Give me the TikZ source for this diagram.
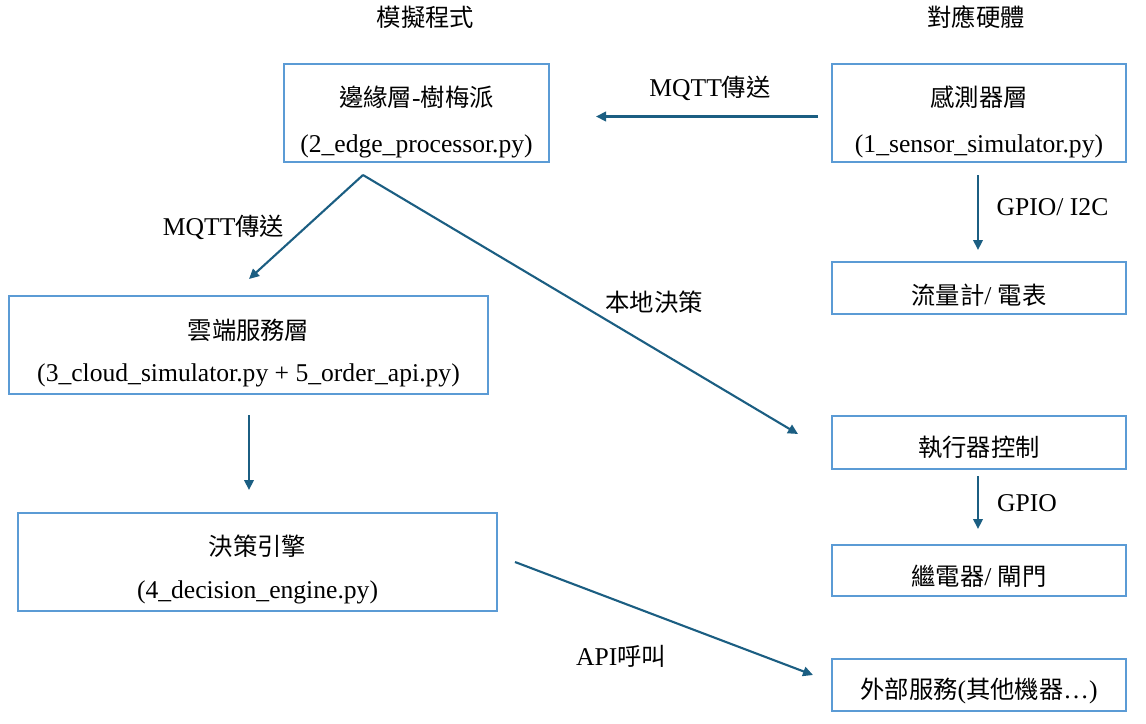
\documentclass[tikz,border=0pt]{standalone}
\usepackage{fontspec}
\setmainfont{Liberation Serif}
\newfontfamily\cjk[Scale=0.95]{Noto Sans CJK TC}
\usetikzlibrary{arrows.meta}
\definecolor{boxblue}{HTML}{5B9BD5}
\definecolor{arrblue}{HTML}{1B5E82}
\begin{document}
\begin{tikzpicture}[x=1pt,y=-1pt,
  box/.style={draw=boxblue, line width=1.2pt, inner sep=0pt},
  txt/.style={inner sep=0pt, font=\fontsize{25.6}{30}\selectfont},
  arr/.style={draw=arrblue, line width=2.1pt, -{Triangle[length=10pt,width=9.5pt]}}]
\useasboundingbox[fill=white] (0,0) rectangle (1146,723);

% titles
\node[txt] (t1) at (425.5,17) {\cjk 模擬程式};
\node[txt] (t2) at (976,17) {\cjk 對應硬體};

% boxes
\node[box, minimum width=265pt, minimum height=98pt] (edge) at (416.5,113) {};
\node[box, minimum width=294pt, minimum height=98pt] (sensor) at (979,113) {};
\node[box, minimum width=294pt, minimum height=52pt] (flow) at (979,288) {};
\node[box, minimum width=294pt, minimum height=53pt] (act) at (979,442.5) {};
\node[box, minimum width=294pt, minimum height=51pt] (relay) at (979,570.5) {};
\node[box, minimum width=294pt, minimum height=52pt] (ext) at (979,685) {};
\node[box, minimum width=479pt, minimum height=98pt] (cloud) at (248.5,345) {};
\node[box, minimum width=479pt, minimum height=98pt] (dec) at (257.5,562) {};

% box texts
\node[txt] (edgeA) at (416.5,97) {{\cjk 邊緣層}-{\cjk 樹梅派}};
\node[txt] (edgeB) at (416.5,146.5) {(2\_edge\_processor.py)};
\node[txt] (sensA) at (979,97) {\cjk 感測器層};
\node[txt] (sensB) at (979,146.5) {(1\_sensor\_simulator.py)};
\node[txt] (flowT) at (979,295) {{\cjk 流量計}/ {\cjk 電表}};
\node[txt] (actT) at (979,447.5) {\cjk 執行器控制};
\node[txt] (relayT) at (979,576) {{\cjk 繼電器}/ {\cjk 閘門}};
\node[txt] (extT) at (979,691) {{\cjk 外部服務}({\cjk 其他機器}…)};
\node[txt] (cloudA) at (248.5,330.5) {\cjk 雲端服務層};
\node[txt] (cloudB) at (248.5,375.5) {(3\_cloud\_simulator.py + 5\_order\_api.py)};
\node[txt] (decA) at (257.5,546) {\cjk 決策引擎};
\node[txt] (decB) at (257.5,592.5) {(4\_decision\_engine.py)};

% connector end points
\coordinate (sensL) at (818,116.5);
\coordinate (edgeR) at (596,116.5);
\coordinate (split) at (363,175);
\coordinate (cloudT) at (249,279);
\coordinate (actL) at (798,434);
\coordinate (sensS) at (978,175);
\coordinate (flowN) at (978,250);
\coordinate (actS) at (978,476);
\coordinate (relayN) at (978,529);
\coordinate (cloudS) at (249,415);
\coordinate (decN) at (249,490);
\coordinate (decR) at (515,562);
\coordinate (extL) at (813,675);

% connectors
\draw[arr] (sensL) -- (edgeR);
\draw[arr] (split) -- (cloudT);
\draw[arr] (split) -- (actL);
\draw[arr] (sensS) -- (flowN);
\draw[arr] (actS) -- (relayN);
\draw[arr] (cloudS) -- (decN);
\draw[arr] (decR) -- (extL);

% connector labels
\node[txt] (l1) at (710,88) {MQTT{\cjk 傳送}};
\node[txt] (l2) at (223.5,227) {MQTT{\cjk 傳送}};
\node[txt] (l3) at (654,302) {\cjk 本地決策};
\node[txt] (l4) at (1052.5,207.5) {GPIO/ I2C};
\node[txt] (l5) at (1027,503.5) {GPIO};
\node[txt] (l6) at (621,656) {API{\cjk 呼叫}};
\end{tikzpicture}
\end{document}
